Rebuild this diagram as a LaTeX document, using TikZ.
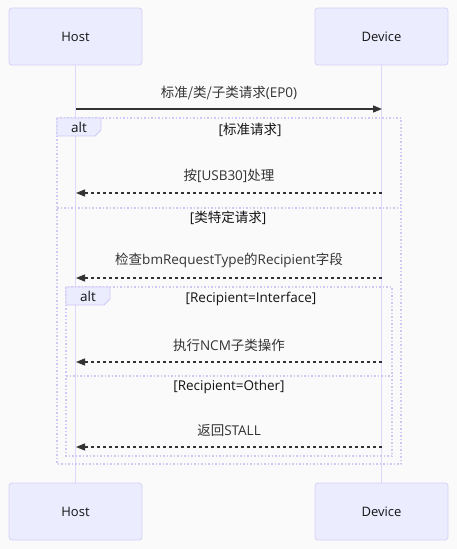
\documentclass[tikz,border=0pt]{standalone}
\usepackage{fontspec}
\setmainfont{Open Sans}
\newfontfamily\cjk{Noto Sans CJK SC}
\usetikzlibrary{arrows.meta, positioning}
\definecolor{SeqBg}{RGB}{250,250,251}
\definecolor{SeqActorFill}{RGB}{236,236,255}
\definecolor{SeqActorLine}{RGB}{214,208,246}
\definecolor{SeqLife}{RGB}{222,216,250}
\definecolor{SeqFrame}{RGB}{206,200,244}
\definecolor{SeqText}{RGB}{51,51,51}
\definecolor{SeqDark}{RGB}{20,20,20}

\begin{document}
\begin{tikzpicture}[x=1pt,y=-1pt,
  actor/.style={draw=SeqActorLine, fill=SeqActorFill, line width=0.8pt, rounded corners=3pt,
    minimum width=133pt, minimum height=57pt, inner sep=0pt, font=\fontsize{13}{15}\selectfont, text=SeqDark},
  msglabel/.style={font=\fontsize{13.5}{15}\selectfont, text=SeqText, inner sep=0pt},
  condlabel/.style={font=\fontsize{13.5}{15}\selectfont, text=SeqDark, inner sep=0pt},
  msg/.style={SeqText, line width=1.3pt, -{Triangle[length=9pt,width=7pt]}},
  reply/.style={msg, dash pattern=on 3pt off 3pt},
  frame/.style={SeqFrame, line width=1.1pt, dash pattern=on 1.5pt off 2pt},
  tagbox/.style={draw=SeqFrame, fill=SeqActorFill, line width=0.8pt}]
  \path[use as bounding box] (0,0) rectangle (457,549);
  \fill[SeqBg] (0,0) rectangle (457,549);

  % actors
  \node[actor] (hostTop) at (75.5,36.5) {Host};
  \node[actor] (devTop) at (381.5,36.5) {Device};
  \node[actor] (hostBot) at (75.5,511.5) {Host};
  \node[actor] (devBot) at (381.5,511.5) {Device};
  \draw[SeqLife, line width=1.6pt] (hostTop.south) -- (hostBot.north);
  \draw[SeqLife, line width=1.6pt] (devTop.south) -- (devBot.north);

  % lifeline points of each message
  \foreach \n/\y in {1/109,2/193,3/278,4/362,5/447}{
    \coordinate (h\n) at (76,\y);
    \coordinate (d\n) at (382,\y);
  }

  % outer alt
  \draw[frame] (57,118) rectangle (401,464);
  \draw[frame] (57,208) -- (401,208);
  \draw[tagbox] (57,118) -- (101,118) -- (101,130) -- (95,136) -- (57,136) -- cycle;
  \node[condlabel] (alt1) at (79,127.5) {alt};
  \node[condlabel] (cond1) at (250,130) {[{\cjk 标准请求}]};
  \node[condlabel] (cond2) at (228,218) {[{\cjk 类特定请求}]};

  % inner alt
  \draw[frame] (66,287) rectangle (392,456);
  \draw[frame] (66,376) -- (392,376);
  \draw[tagbox] (66,287) -- (110,287) -- (110,299) -- (104,305) -- (66,305) -- cycle;
  \node[condlabel] (alt2) at (88,296.5) {alt};
  \node[condlabel] (cond3) at (251,299) {[Recipient=Interface]};
  \node[condlabel] (cond4) at (229,387) {[Recipient=Other]};

  % messages
  \node[msglabel] (m1) at (229,93) {{\cjk 标准/类/子类请求}(EP0)};
  \draw[msg] (h1) -- (d1);
  \node[msglabel] (m2) at (229,176) {{\cjk 按}[USB30]{\cjk 处理}};
  \draw[reply] (d2) -- (h2);
  \node[msglabel] (m3) at (229,260.5) {{\cjk 检查}bmRequestType{\cjk 的}Recipient{\cjk 字段}};
  \draw[reply] (d3) -- (h3);
  \node[msglabel] (m4) at (229,345) {{\cjk 执行}NCM{\cjk 子类操作}};
  \draw[reply] (d4) -- (h4);
  \node[msglabel] (m5) at (229,430) {{\cjk 返回}STALL};
  \draw[reply] (d5) -- (h5);
\end{tikzpicture}
\end{document}
